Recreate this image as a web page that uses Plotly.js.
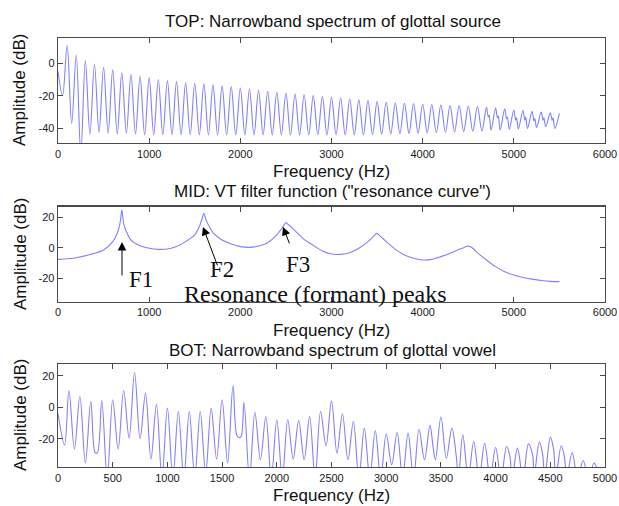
<!DOCTYPE html>
<html>
<head>
<meta charset="utf-8">
<script src="https://cdn.plot.ly/plotly-3.0.1.min.js"></script>
<style>html,body{margin:0;padding:0;background:#fff;}#chart{width:619px;height:506px;}</style>
</head>
<body>
<div id="chart"></div>
<script>
// ---------- DATA ----------
// TOP: narrowband spectrum of glottal source (peaks at harmonics, troughs between)
const topFreq = [0,50,100,150,200,250,300,350,400,450,500,550,600,650,700,750,800,850,900,950,
 1000,1050,1100,1150,1200,1250,1300,1350,1400,1450,1500,1550,1600,1650,1700,1750,1800,1850,1900,1950,
 2000,2050,2100,2150,2200,2250,2300,2350,2400,2450,2500,2550,2600,2650,2700,2750,2800,2850,2900,2950,
 3000,3050,3100,3150,3200,3250,3300,3350,3400,3450,3500,3550,3600,3650,3700,3750,3800,3850,3900,3950,
 4000,4050,4100,4150,4200,4250,4300,4350,4400,4450,4500,4550,4600,4650,4700,4720,4730,4750,4800,4820,4830,4850,
 4900,4920,4930,4950,5000,5020,5030,5050,5100,5120,5130,5150,5200,5220,5230,5250,5300,5320,5330,5350,
 5400,5420,5430,5450,5500];
const topAmp = [-4.9,-20,10.9,-37,5.1,-56,1.6,-43.5,-0.8,-42.4,-2.5,-43,-4.1,-43.5,-5.9,-43,-7.0,-43.5,-8.0,-44,
 -9.0,-44,-10.0,-44,-10.7,-44,-11.3,-44,-11.9,-44,-12.3,-44,-12.7,-44,-13.3,-44,-13.9,-44,-14.4,-44,
 -15.2,-44,-16.0,-44,-16.6,-44,-17.2,-44,-17.8,-44,-18.3,-44,-18.9,-44,-19.4,-44,-19.9,-44,-20.5,-44,
 -20.9,-44,-21.4,-44,-22.0,-44,-22.5,-44,-23.0,-43.8,-23.6,-43.6,-24.0,-43.5,-24.4,-43.3,-24.6,-43.2,-24.8,-43,
 -25.0,-42.8,-25.4,-42.6,-25.6,-42.4,-26.0,-42.2,-26.0,-42,-26.4,-41.8,-26.6,-41.5,-27.0,-33,-32,-41.2,-27.5,-33.5,-32.5,-41,
 -28.0,-34,-33,-40.6,-28.7,-35,-33.5,-40.3,-29.0,-35,-33,-40,-29.5,-35.5,-34,-39.5,-30.0,-35,-33.5,-39,
 -30.5,-35,-33.5,-40,-30.8];

// MID: vocal-tract filter function (resonance curve)
const midFreq = [0,200,400,500,600,650,680,700,720,750,800,900,1000,1100,1200,1300,1400,1500,1550,1580,1600,1620,1650,1700,1800,1900,
 2000,2100,2200,2300,2400,2450,2480,2500,2520,2550,2600,2700,2800,2900,3000,3100,3200,3300,3400,3450,3480,3500,3520,3550,3600,3700,3800,3900,
 4000,4100,4200,4300,4400,4450,4480,4500,4520,4550,4600,4700,4800,4900,5000,5100,5200,5300,5400,5500];
const midAmp = [-7.7,-6.6,-3.7,-1.5,4,9.5,16,24.9,16,10.6,5,1.3,-0.4,-1.1,-0.9,0.7,4,8.4,13.9,19,22.7,19,15,9.9,5,2.4,
 0.7,0.2,1.1,3.3,8.4,12.3,15,16.5,15.5,14,11.2,5.5,1.5,-2.2,-4.2,-4.4,-3.3,-0.4,4,6.8,8.6,9.5,8.4,6.8,4,-1.1,-4.8,-7,
 -8.1,-7.7,-5.9,-3.7,-1.1,0,0.8,1.1,0.6,-0.4,-3.3,-8.1,-12.5,-15.8,-18,-19.6,-20.7,-21.6,-22.2,-22.4];

// BOT: narrowband spectrum of glottal vowel
const botFreq = [0,60,100,150,200,250,300,340,360,400,450,500,550,600,650,700,750,800,850,900,950,
 1000,1050,1100,1150,1200,1250,1300,1350,1400,1450,1500,1550,1600,1640,1670,1700,1750,1800,1850,1900,1950,
 2000,2050,2100,2150,2200,2250,2300,2350,2400,2450,2500,2550,2600,2650,2700,2750,2800,2850,2900,2950,
 3000,3050,3100,3150,3200,3250,3300,3350,3400,3430,3450,3500,3550,3600,3640,3660,3700,3750,3800,3850,3900,3950,
 4000,4050,4100,4130,4150,4200,4250,4300,4340,4350,4400,4430,4450,4500,4530,4550,4600,4630,4650,4700,4750,4800,4850,4900,4950];
const botAmp = [-4,-24,10.6,-26.7,6.8,-35.5,3.6,-29,-29,4.2,-45,4.7,-26.7,10.6,-19.7,22,-20.1,8.9,-33,1.9,-45,
 -0.6,-45,-2.8,-45,-2.8,-45,-2.8,-42,-0.6,-33,4.7,-35.5,13.5,-18.6,-19,3.0,-45,-3.2,-33.4,-5.9,-45,
 -8,-45,-8,-33,-8.5,-33.4,-5.9,-45,-2.8,-24.5,4,-29.2,-4.2,-33.4,-9.1,-45,-13.3,-45,-14.8,-45,
 -16.9,-36.6,-16.1,-45,-16.5,-45,-14,-33.4,-11.6,-26,-33.4,-6.3,-32.4,-13.3,-31,-45,-17.6,-45,-21.8,-45,-22.9,-45,
 -25.6,-45,-25,-31,-45,-26,-45,-23.3,-31,-45,-22.2,-30,-45,-19,-26.7,-45,-24.5,-32,-45,-28.8,-45,-33.9,-45,-35.5,-45];

const topXTicks = [0,1000,2000,3000,4000,5000,6000];
const botXTicks = [0,500,1000,1500,2000,2500,3000,3500,4000,4500,5000];
const topYTicks = [-40,-20,0];
const topYText = ['-40','-20','0'];
const midYTicks = [-20,0,20];
const midYText = ['-20','0','20'];

// ---------- LAYOUT ----------
const W = 619, H = 506;
const px = v => v / W;
const py = v => 1 - v / H;
const lineColor = '#8080ff';
const frame = '#4a4a4a';
const sans = 'Liberation Sans, Arial, Helvetica, sans-serif';
const serif = 'Liberation Serif, Times New Roman, serif';

function xax(anchor, range, ticks) {
  return {domain: [px(58), px(605)], anchor: anchor, range: range, tickmode: 'array', tickvals: ticks,
    ticks: 'inside', ticklen: 5, tickwidth: 1, tickcolor: frame, showline: true, linecolor: frame, linewidth: 1.3,
    mirror: 'ticks', showgrid: false, zeroline: false, tickfont: {family: sans, size: 11, color: '#1a1a1a'}, fixedrange: true};
}
function yax(top, bottom, anchor, range, ticks, text) {
  return {domain: [py(bottom), py(top)], anchor: anchor, range: range, tickmode: 'array', tickvals: ticks, ticktext: text,
    ticks: 'inside', ticklen: 5, tickwidth: 1, tickcolor: frame, showline: true, linecolor: frame, linewidth: 1.3,
    mirror: 'ticks', showgrid: false, zeroline: false, tickfont: {family: sans, size: 11, color: '#1a1a1a'}, fixedrange: true};
}

const traces = [
  {x: topFreq, y: topAmp, xaxis: 'x', yaxis: 'y', type: 'scatter', mode: 'lines',
   line: {color: lineColor, width: 1.1, shape: 'spline', smoothing: 1}, hoverinfo: 'skip'},
  {x: midFreq, y: midAmp, xaxis: 'x2', yaxis: 'y2', type: 'scatter', mode: 'lines',
   line: {color: lineColor, width: 1.1, shape: 'spline', smoothing: 0.8}, hoverinfo: 'skip'},
  {x: botFreq, y: botAmp, xaxis: 'x3', yaxis: 'y3', type: 'scatter', mode: 'lines',
   line: {color: lineColor, width: 1.1, shape: 'spline', smoothing: 1}, hoverinfo: 'skip'}
];

function label(text, x, y, size, angle, font) {
  return {text: text, xref: 'paper', yref: 'paper', x: px(x), y: py(y), xanchor: 'center', yanchor: 'middle',
    showarrow: false, textangle: angle || 0, borderpad: 0, font: {family: font || sans, size: size, color: '#111'}};
}
function arrow(xref, yref, x, y, ax, ay) {
  return {text: '', xref: xref, yref: yref, x: x, y: y, ax: ax, ay: ay, showarrow: true,
    arrowhead: 2, arrowsize: 1.7, arrowwidth: 1, arrowcolor: '#000', standoff: 0};
}

const annotations = [
  label('TOP: Narrowband spectrum of glottal source', 333, 22, 17),
  label('Frequency (Hz)', 331, 171, 17),
  label('MID: VT filter function ("resonance curve")', 333, 191, 17),
  label('Frequency (Hz)', 331, 330, 17),
  label('BOT: Narrowband spectrum of glottal vowel', 333, 350, 17),
  label('Frequency (Hz)', 331, 495, 17),
  label('Amplitude (dB)', 20, 90, 17, -90),
  label('Amplitude (dB)', 20, 254, 17, -90),
  label('Amplitude (dB)', 20, 415, 17, -90),
  arrow('x2', 'y2', 702, 3.8, 0, 35),
  arrow('x2', 'y2', 1590, 13.7, 15, 40),
  arrow('x2', 'y2', 2468, 13.7, 7, 18),
  label('F1', 141, 279, 23, 0, serif),
  label('F2', 222, 269, 23, 0, serif),
  label('F3', 298, 264, 23, 0, serif),
  label('Resonance (formant) peaks', 315, 294, 24, 0, serif)
];

const layout = {
  width: W, height: H, margin: {l: 0, r: 0, t: 0, b: 0}, showlegend: false,
  paper_bgcolor: '#fff', plot_bgcolor: '#fff',
  xaxis: xax('y', [0, 6000], topXTicks),
  yaxis: yax(38, 143, 'x', [-49, 15.5], topYTicks, topYText),
  xaxis2: xax('y2', [0, 6000], topXTicks),
  yaxis2: yax(206.7, 301.7, 'x2', [-35.6, 27], midYTicks, midYText),
  xaxis3: xax('y3', [0, 5000], botXTicks),
  yaxis3: yax(364, 467, 'x3', [-38, 27.4], midYTicks, midYText),
  annotations: annotations
};

Plotly.newPlot('chart', traces, layout, {staticPlot: true, displayModeBar: false});
</script>
</body>
</html>
